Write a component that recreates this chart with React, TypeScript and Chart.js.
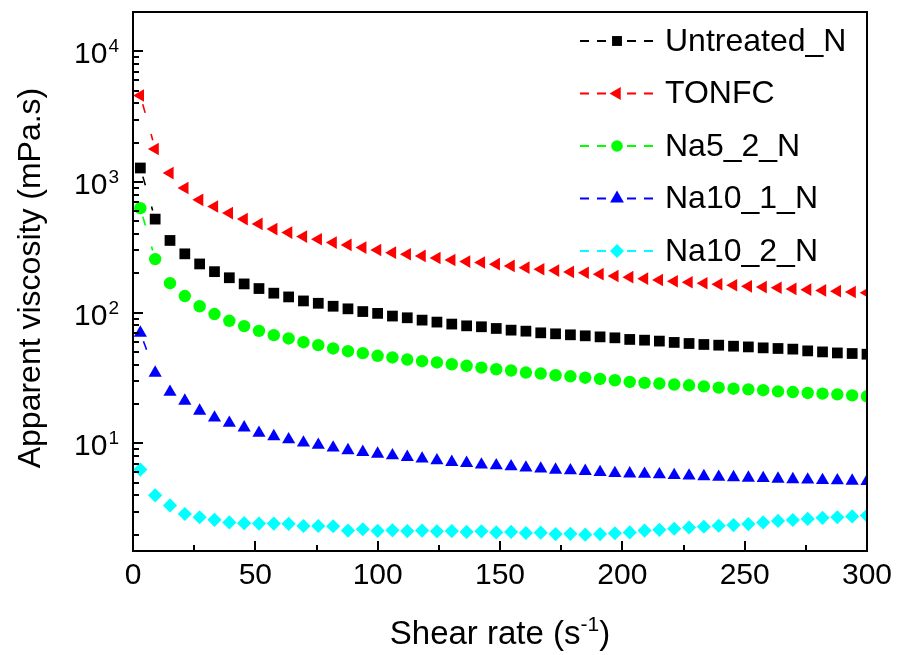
import React, { useEffect, useRef } from 'react';
import { Chart, registerables } from 'chart.js';

Chart.register(...registerables);

// Shear rate (s^-1)
const shearRate = [
  3, 9.06, 15.12, 21.18, 27.24, 33.31, 39.37, 45.43, 51.49, 57.55,
  63.61, 69.67, 75.73, 81.8, 87.86, 93.92, 99.98, 106.04, 112.1, 118.16,
  124.22, 130.29, 136.35, 142.41, 148.47, 154.53, 160.59, 166.65, 172.71, 178.78,
  184.84, 190.9, 196.96, 203.02, 209.08, 215.14, 221.2, 227.27, 233.33, 239.39,
  245.45, 251.51, 257.57, 263.63, 269.69, 275.76, 281.82, 287.88, 293.94, 300,
];

// Apparent viscosity (mPa.s)
const untreatedN = [
  1280, 520, 357, 282, 236, 206, 185, 166, 153, 141,
  132, 123, 118, 112, 107, 102, 98.8, 94.2, 91.4, 87.7,
  84.7, 81.8, 79.3, 78.0, 75.7, 73.5, 72.2, 70.1, 68.9, 67.7,
  66.5, 65.3, 64.2, 62.4, 61.6, 60.6, 59.2, 58.1, 57.1, 56.4,
  55.4, 54.7, 53.8, 53.2, 52.6, 51.0, 50.1, 49.2, 48.7, 48.1,
];
const tonfc = [
  4590, 1790, 1170, 900, 730, 650, 578, 520, 478, 436,
  410, 382, 365, 344, 330, 315, 302, 288, 280, 272,
  262, 253, 246, 242, 235, 228, 221, 215, 210, 205,
  202, 197, 191, 187, 182, 178, 174, 171, 168, 165,
  162, 159, 157, 155, 152, 150, 148, 146, 144, 142,
];
const na5_2_N = [
  631, 257, 168, 134, 112, 97.6, 86.7, 78.9, 72.6, 67.3,
  63.5, 59.4, 56.4, 53.2, 50.7, 49.0, 46.8, 45.4, 43.8, 42.5,
  41.6, 40.3, 39.2, 38.0, 36.9, 36.1, 34.8, 34.2, 33.2, 32.6,
  31.8, 31.1, 30.4, 29.5, 29.0, 28.7, 28.2, 27.8, 27.3, 26.7,
  26.2, 25.9, 25.5, 25.0, 24.7, 24.3, 24.0, 23.7, 23.3, 22.9,
];
const na10_1_N = [
  70.1, 34.6, 24.7, 21.1, 17.7, 15.7, 14.3, 13.2, 12.0, 11.3,
  10.7, 10.1, 9.7, 9.25, 8.83, 8.57, 8.3, 8.07, 7.83, 7.62,
  7.39, 7.17, 7.05, 6.85, 6.77, 6.65, 6.5, 6.39, 6.27, 6.19,
  6.12, 6.01, 5.9, 5.86, 5.82, 5.77, 5.7, 5.65, 5.58, 5.52,
  5.48, 5.44, 5.4, 5.35, 5.3, 5.26, 5.22, 5.19, 5.16, 5.13,
];
const na10_2_N = [
  6.3, 4.0, 3.35, 2.88, 2.72, 2.6, 2.48, 2.45, 2.43, 2.43,
  2.42, 2.33, 2.33, 2.32, 2.15, 2.2, 2.14, 2.16, 2.13, 2.15,
  2.12, 2.13, 2.1, 2.12, 2.08, 2.1, 2.06, 2.07, 2.02, 2.03,
  2.0, 2.02, 2.05, 2.08, 2.15, 2.18, 2.22, 2.27, 2.3, 2.34,
  2.37, 2.41, 2.48, 2.55, 2.59, 2.64, 2.69, 2.72, 2.76, 2.8,
];

const seriesNames = ['Untreated_N', 'TONFC', 'Na5_2_N', 'Na10_1_N', 'Na10_2_N'];
const seriesValues = [untreatedN, tonfc, na5_2_N, na10_1_N, na10_2_N];
const seriesColors = ['#000000', '#ff0000', '#00ff00', '#0000ff', '#00ffff'];
const seriesMarkers = ['rect', 'triangle', 'circle', 'triangle', 'rectRot'];
const seriesRotation = [0, -90, 0, 0, 0];
const seriesRadius = [7.6, 7.3, 6.2, 7.6, 7.1];
const legendRadius = [7, 7.5, 5.8, 8, 7];

const xTickValues = [0, 50, 100, 150, 200, 250, 300];
const yMajorExponents = [1, 2, 3, 4];
const xTitle = 'Shear rate (s';
const xTitleSup = '-1';
const yTitle = 'Apparent viscosity (mPa.s)';

const FONT = '"Liberation Sans", Arial, Helvetica, sans-serif';

function drawMarker(ctx: CanvasRenderingContext2D, style: string, x: number, y: number, r: number, rot: number, color: string) {
  ctx.save();
  ctx.fillStyle = color;
  ctx.beginPath();
  if (style === 'rect') {
    const s = r * Math.SQRT1_2;
    ctx.rect(x - s, y - s, 2 * s, 2 * s);
  } else if (style === 'circle') {
    ctx.arc(x, y, r, 0, Math.PI * 2);
  } else if (style === 'rectRot') {
    ctx.moveTo(x - r, y);
    ctx.lineTo(x, y - r);
    ctx.lineTo(x + r, y);
    ctx.lineTo(x, y + r);
  } else {
    const rad = (rot * Math.PI) / 180;
    for (let i = 0; i < 3; i++) {
      const a = rad + (i * 2 * Math.PI) / 3;
      const px = x + Math.sin(a) * r;
      const py = y - Math.cos(a) * r;
      if (i === 0) ctx.moveTo(px, py); else ctx.lineTo(px, py);
    }
  }
  ctx.closePath();
  ctx.fill();
  ctx.restore();
}

// Dashed connecting lines with a gap around each symbol (Origin style)
const gapLinePlugin = {
  id: 'gapLines',
  beforeDatasetsDraw(chart: any) {
    const { ctx, chartArea: a } = chart;
    const gap = 9;
    ctx.save();
    ctx.beginPath();
    ctx.rect(a.left, a.top, a.right - a.left, a.bottom - a.top);
    ctx.clip();
    chart.data.datasets.forEach((ds: any, i: number) => {
      const meta = chart.getDatasetMeta(i);
      ctx.strokeStyle = ds.borderColor;
      ctx.lineWidth = 1.6;
      ctx.setLineDash([9, 22]);
      for (let j = 0; j < meta.data.length - 1; j++) {
        const p = meta.data[j];
        const q = meta.data[j + 1];
        const dx = q.x - p.x;
        const dy = q.y - p.y;
        const L = Math.hypot(dx, dy);
        if (L - 2 * gap <= 12) continue;
        const ux = dx / L;
        const uy = dy / L;
        ctx.beginPath();
        ctx.moveTo(p.x + ux * gap, p.y + uy * gap);
        ctx.lineTo(q.x - ux * gap, q.y - uy * gap);
        ctx.stroke();
      }
    });
    ctx.restore();
  },
};

const decorPlugin = {
  id: 'decor',
  afterDraw(chart: any) {
    const { ctx, chartArea: a, scales } = chart;
    const xs = scales.x;
    const ys = scales.y;
    ctx.save();
    ctx.strokeStyle = '#000';
    ctx.fillStyle = '#000';
    ctx.lineWidth = 2;
    ctx.strokeRect(a.left, a.top, a.right - a.left, a.bottom - a.top);

    // x ticks (inward)
    for (let v = 0; v <= 300; v += 25) {
      const px = Math.round(xs.getPixelForValue(v));
      const len = v % 50 === 0 ? 10 : 6;
      ctx.beginPath();
      ctx.moveTo(px, a.bottom);
      ctx.lineTo(px, a.bottom - len);
      ctx.stroke();
    }
    // y ticks (inward)
    for (let e = 0; e <= 4; e++) {
      for (let m = 1; m <= 9; m++) {
        const v = m * Math.pow(10, e);
        if (v < ys.min || v > ys.max) continue;
        const py = Math.round(ys.getPixelForValue(v));
        const len = m === 1 ? 10 : 6;
        ctx.beginPath();
        ctx.moveTo(a.left, py);
        ctx.lineTo(a.left + len, py);
        ctx.stroke();
      }
    }

    // x tick labels
    ctx.font = `30px ${FONT}`;
    ctx.textAlign = 'center';
    ctx.textBaseline = 'alphabetic';
    for (const v of xTickValues) {
      const px = xs.getPixelForValue(v);
      ctx.fillText(String(v), px, a.bottom + 33);
    }

    // y tick labels 10^n
    for (const e of yMajorExponents) {
      const py = ys.getPixelForValue(Math.pow(10, e));
      ctx.font = `19px ${FONT}`;
      ctx.textAlign = 'right';
      const supW = ctx.measureText(String(e)).width;
      const right = 119;
      ctx.fillText(String(e), right, py + 1);
      ctx.font = `30px ${FONT}`;
      ctx.fillText('10', right - supW - 1, py + 12);
    }

    // x title with superscript
    ctx.textAlign = 'left';
    ctx.font = `33px ${FONT}`;
    const w1 = ctx.measureText(xTitle).width;
    const w3 = ctx.measureText(')').width;
    ctx.font = `21px ${FONT}`;
    const w2 = ctx.measureText(xTitleSup).width;
    const cx = (a.left + a.right) / 2;
    const sx = cx - (w1 + w2 + w3) / 2;
    const by = 644;
    ctx.font = `33px ${FONT}`;
    ctx.fillText(xTitle, sx, by);
    ctx.font = `21px ${FONT}`;
    ctx.fillText(xTitleSup, sx + w1, by - 13);
    ctx.font = `33px ${FONT}`;
    ctx.fillText(')', sx + w1 + w2, by);

    // y title
    ctx.save();
    ctx.translate(31, 278);
    ctx.rotate(-Math.PI / 2);
    ctx.textAlign = 'center';
    ctx.textBaseline = 'middle';
    ctx.font = `32px ${FONT}`;
    ctx.fillText(yTitle, 0, 0);
    ctx.restore();

    // legend
    const lx0 = 580;
    const lx1 = 653;
    const mx = 617;
    for (let i = 0; i < seriesNames.length; i++) {
      const ly = 41 + i * 52.5;
      ctx.save();
      ctx.strokeStyle = seriesColors[i];
      ctx.lineWidth = 2;
      ctx.setLineDash([9, 8]);
      ctx.beginPath();
      ctx.moveTo(lx0, ly);
      ctx.lineTo(mx, ly);
      ctx.stroke();
      ctx.beginPath();
      ctx.moveTo(lx1, ly);
      ctx.lineTo(mx, ly);
      ctx.stroke();
      ctx.restore();
      drawMarker(ctx, seriesMarkers[i], mx, ly, legendRadius[i], seriesRotation[i], seriesColors[i]);
      ctx.fillStyle = '#000';
      ctx.font = `32px ${FONT}`;
      ctx.textAlign = 'left';
      ctx.textBaseline = 'middle';
      ctx.fillText(seriesNames[i], 665, ly + 1);
    }
    ctx.restore();
  },
};

export default function App() {
  const canvasRef = useRef<HTMLCanvasElement | null>(null);

  useEffect(() => {
    const canvas = canvasRef.current;
    if (!canvas) return;
    const datasets = seriesNames.map((name, i) => ({
      label: name,
      data: shearRate.map((x, j) => ({ x, y: seriesValues[i][j] })),
      borderColor: seriesColors[i],
      backgroundColor: seriesColors[i],
      pointStyle: seriesMarkers[i],
      pointRotation: seriesRotation[i],
      pointRadius: seriesRadius[i],
      pointBorderWidth: 0,
      pointBackgroundColor: seriesColors[i],
      pointBorderColor: seriesColors[i],
      showLine: false,
      fill: false,
      clip: 0,
    }));
    const chart = new Chart(canvas, {
      type: 'line',
      data: { datasets },
      options: {
        responsive: false,
        animation: false,
        events: [],
        layout: { padding: { top: 12, right: 31, left: 0, bottom: 0 } },
        plugins: { legend: { display: false }, tooltip: { enabled: false } },
        scales: {
          x: {
            type: 'linear',
            min: 0,
            max: 300,
            grid: { display: false, drawTicks: false },
            border: { display: false },
            ticks: { display: false },
            afterFit: (s: any) => { s.height = 104; },
          },
          y: {
            type: 'logarithmic',
            min: 1.5,
            max: 20000,
            grid: { display: false, drawTicks: false },
            border: { display: false },
            ticks: { display: false },
            afterFit: (s: any) => { s.width = 133; },
          },
        },
      },
      plugins: [gapLinePlugin, decorPlugin],
    } as any);
    return () => chart.destroy();
  }, []);

  return (
    <div style={{ position: 'absolute', left: 0, top: 0, width: 898, height: 655, background: '#fff' }}>
      <canvas ref={canvasRef} width={898} height={655} />
    </div>
  );
}
